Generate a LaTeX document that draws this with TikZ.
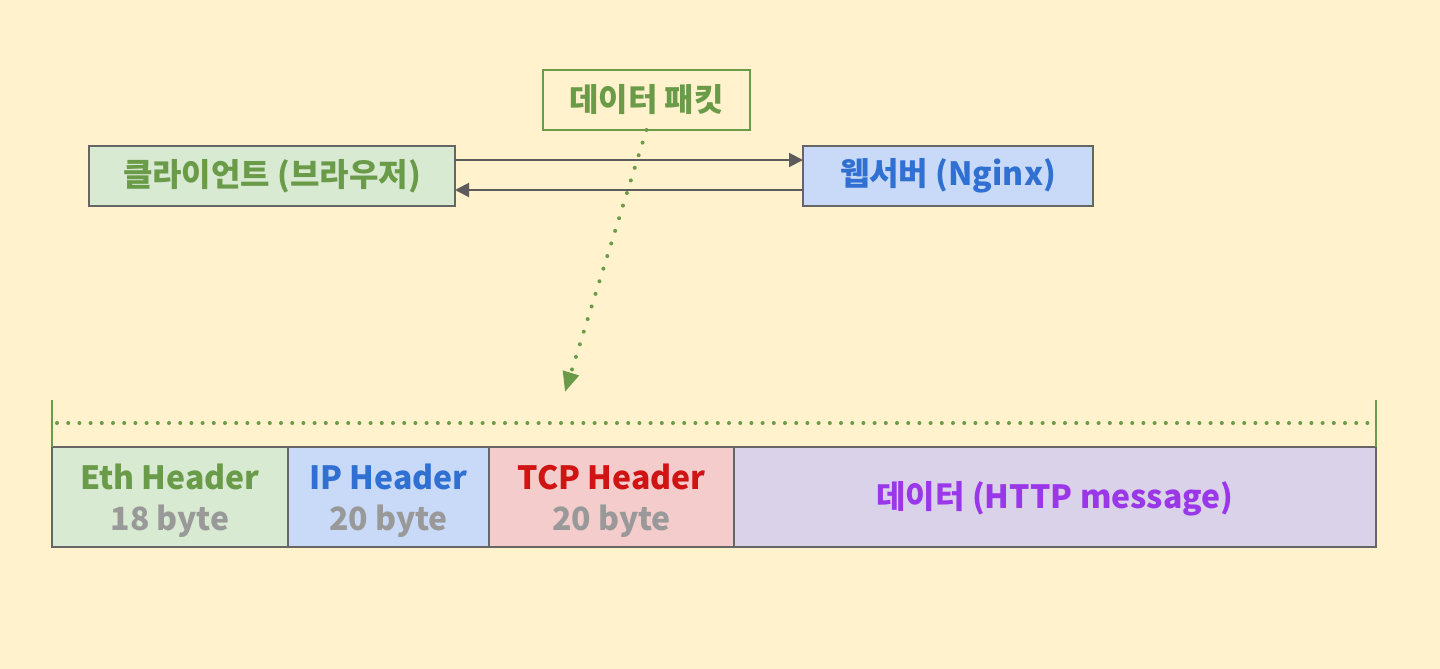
\documentclass[tikz,border=0pt]{standalone}
\usepackage{fontspec}
\setmainfont{Noto Sans CJK KR}
\usetikzlibrary{arrows.meta,positioning}
\definecolor{bgyellow}{HTML}{FFF2CC}
\definecolor{txtgreen}{HTML}{6A9B48}
\definecolor{txtblue}{HTML}{2F70D2}
\definecolor{txtred}{HTML}{D01414}
\definecolor{txtgray}{HTML}{999999}
\definecolor{txtpurple}{HTML}{9A37E8}
\definecolor{boxgreen}{HTML}{D9EAD3}
\definecolor{boxblue}{HTML}{C9DAF8}
\definecolor{boxred}{HTML}{F4CCCC}
\definecolor{boxpurple}{HTML}{D9D2E9}
\definecolor{edgegray}{HTML}{666666}
\begin{document}
\begin{tikzpicture}[
		x=0.5pt, y=-0.5pt,
		every node/.style={font=\fontsize{16}{20.5}\selectfont\bfseries, inner sep=0pt, outer sep=0pt},
		host/.style={draw=edgegray, line width=0.9pt, minimum height=30pt},
		cell/.style={draw=edgegray, line width=0.9pt, minimum height=50pt, align=center, anchor=west, text depth=-1pt},
		link/.style={draw=edgegray!90!black, line width=1pt, -{Triangle[length=7pt,width=7pt]}},
		bracket/.style={draw=txtgreen, line width=1.2pt}
	]
		\fill[bgyellow] (0,0) rectangle (1440,669);
		\useasboundingbox (0,0) rectangle (1440,669);
		% top: client, server and the packet
		\node[host, fill=boxgreen, text=txtgreen, minimum width=183pt] (client) at (272,176) {클라이언트 (브라우저)};
		\node[host, fill=boxblue, text=txtblue, minimum width=145pt] (server) at (948,176) {웹서버 (Nginx)};
		\node[draw=txtgreen, line width=0.8pt, text=txtgreen, minimum width=103.5pt, minimum height=30pt] (packet) at (646.5,100) {데이터 패킷};
		\draw[link] ([yshift=8pt]client.east) -- ([yshift=8pt]server.west);
		\draw[link] ([yshift=-7pt]server.west) -- ([yshift=-7pt]client.east);
		\coordinate (tip) at (565,392);
		\draw[txtgreen, line width=2pt, line cap=round, dash pattern=on 0pt off 6.6pt,
			-{Triangle[length=10pt,width=8pt]}] (packet.south) -- (tip);
		% bottom: packet layout
		\node[cell, fill=boxgreen, minimum width=118pt] (eth) at (52,497) {\color{txtgreen}Eth Header\\\color{txtgray}18 byte};
		\node[cell, fill=boxblue, minimum width=100.5pt] (ip) at (eth.east) {\color{txtblue}IP Header\\\color{txtgray}20 byte};
		\node[cell, fill=boxred, minimum width=122.5pt] (tcp) at (ip.east) {\color{txtred}TCP Header\\\color{txtgray}20 byte};
		\node[cell, fill=boxpurple, minimum width=321pt, text=txtpurple, text height=12pt, text depth=1pt] (data) at (tcp.east) {데이터 (HTTP message)};
		\draw[bracket] (eth.north west) -- ++(0,-47);
		\draw[bracket] (data.north east) -- ++(0,-47);
		\draw[bracket, line width=2pt, line cap=round, dash pattern=on 0pt off 5.6pt]
			([shift={(5,-24)}]eth.north west) -- ([shift={(-5,-24)}]data.north east);
	\end{tikzpicture}
\end{document}
